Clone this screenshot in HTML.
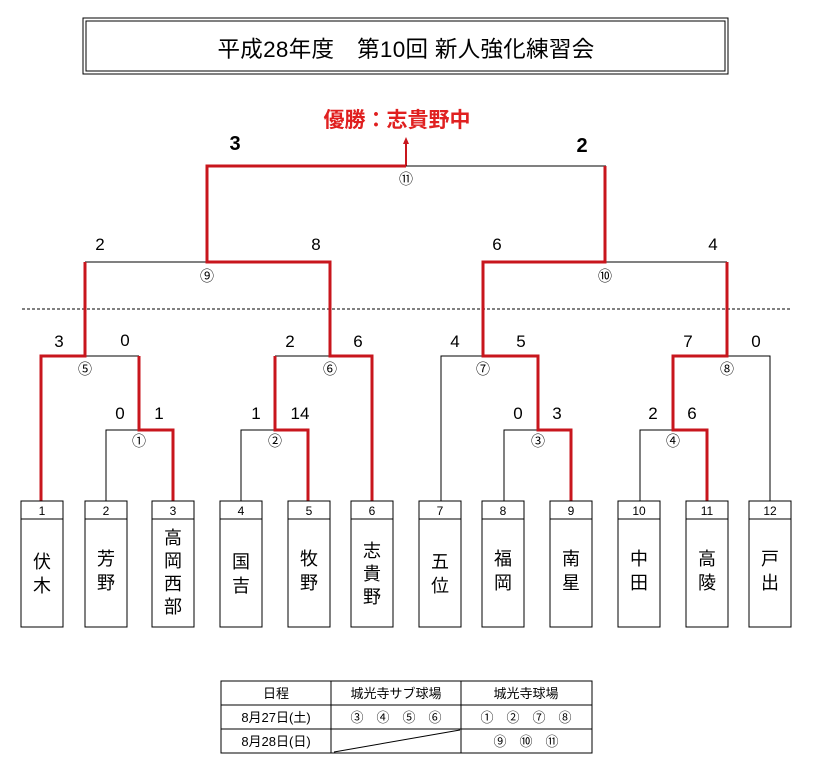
<!DOCTYPE html>
<html><head><meta charset="utf-8"><style>
html,body{margin:0;padding:0;background:#fff;}
svg{display:block;}
text{font-family:"Liberation Sans","Noto Sans CJK JP",sans-serif;}
</style></head><body>
<svg width="817" height="760" viewBox="0 0 817 760" xmlns="http://www.w3.org/2000/svg">
<!-- title -->
<rect x="83" y="18" width="645" height="56" fill="none" stroke="#000" stroke-width="1"/>
<rect x="86" y="21" width="639" height="50" fill="none" stroke="#000" stroke-width="1"/>
<text x="406" y="57" font-size="22.5" text-anchor="middle" letter-spacing="0.3">平成28年度　第10回 新人強化練習会</text>
<!-- winner -->
<text x="397" y="127" font-size="21" font-weight="bold" fill="#e02020" text-anchor="middle">優勝：志貴野中</text>
<line x1="406" y1="166" x2="406" y2="142" stroke="#c8161d" stroke-width="2"/>
<polygon points="403,144 409,144 406,137" fill="#c8161d"/>
<!-- dashed -->
<line x1="22" y1="309" x2="792" y2="309" stroke="#000" stroke-width="1" stroke-dasharray="3,2"/>
<g fill="none" stroke-linejoin="miter">
<g stroke="#000" stroke-width="1">
<line x1="406" y1="166" x2="606" y2="166"/>
<line x1="85" y1="262" x2="207" y2="262"/>
<line x1="605" y1="262" x2="727" y2="262"/>
<line x1="85" y1="356" x2="139" y2="356"/>
<line x1="275" y1="356" x2="330" y2="356"/>
<polyline points="441,501 441,356 483,356"/>
<polyline points="770,501 770,356 727,356"/>
<polyline points="106,501 106,430 139,430"/>
<polyline points="241,501 241,430 275,430"/>
<polyline points="504,501 504,430 538,430"/>
<polyline points="640,501 640,430 673,430"/>
</g>
<g stroke="#c8161d" stroke-width="3">
<polyline points="406,166 207,166 207,262 330,262 330,356 372,356 372,501"/>
<polyline points="605,166 605,262 483,262 483,356 538,356 538,430 571,430 571,501"/>
<polyline points="85,262 85,356 41,356 41,501"/>
<polyline points="139,356 139,430 173,430 173,501"/>
<polyline points="275,356 275,430 308,430 308,501"/>
<polyline points="727,262 727,356 673,356 673,430 707,430 707,501"/>
</g>
</g>
<!-- match numbers -->
<g font-size="14" text-anchor="middle">
<text x="406" y="184">⑪</text>
<text x="207" y="281">⑨</text>
<text x="605" y="281">⑩</text>
<text x="85" y="374">⑤</text>
<text x="330" y="374">⑥</text>
<text x="483" y="374">⑦</text>
<text x="727" y="374">⑧</text>
<text x="139" y="446">①</text>
<text x="275" y="446">②</text>
<text x="538" y="446">③</text>
<text x="673" y="446">④</text>
</g>
<!-- scores -->
<g font-size="17" text-anchor="middle">
<text x="235" y="150" font-weight="bold" font-size="20">3</text>
<text x="582" y="152" font-weight="bold" font-size="20">2</text>
<text x="100" y="250">2</text><text x="316" y="250">8</text>
<text x="497" y="250">6</text><text x="713" y="250">4</text>
<text x="59" y="347">3</text><text x="125" y="346">0</text>
<text x="290" y="347">2</text><text x="358" y="347">6</text>
<text x="455" y="347">4</text><text x="521" y="347">5</text>
<text x="688" y="347">7</text><text x="756" y="347">0</text>
<text x="120" y="419">0</text><text x="159" y="419">1</text>
<text x="256" y="419">1</text><text x="300" y="419">14</text>
<text x="518" y="419">0</text><text x="557" y="419">3</text>
<text x="653" y="419">2</text><text x="692" y="419">6</text>
</g>
<!-- team boxes -->
<g stroke="#000" stroke-width="1" fill="none">
<rect x="21" y="501" width="42" height="126"/><line x1="21" y1="519" x2="63" y2="519"/>
<rect x="85" y="501" width="42" height="126"/><line x1="85" y1="519" x2="127" y2="519"/>
<rect x="152" y="501" width="42" height="126"/><line x1="152" y1="519" x2="194" y2="519"/>
<rect x="220" y="501" width="42" height="126"/><line x1="220" y1="519" x2="262" y2="519"/>
<rect x="288" y="501" width="42" height="126"/><line x1="288" y1="519" x2="330" y2="519"/>
<rect x="351" y="501" width="42" height="126"/><line x1="351" y1="519" x2="393" y2="519"/>
<rect x="419" y="501" width="42" height="126"/><line x1="419" y1="519" x2="461" y2="519"/>
<rect x="482" y="501" width="42" height="126"/><line x1="482" y1="519" x2="524" y2="519"/>
<rect x="550" y="501" width="42" height="126"/><line x1="550" y1="519" x2="592" y2="519"/>
<rect x="618" y="501" width="42" height="126"/><line x1="618" y1="519" x2="660" y2="519"/>
<rect x="686" y="501" width="42" height="126"/><line x1="686" y1="519" x2="728" y2="519"/>
<rect x="749" y="501" width="42" height="126"/><line x1="749" y1="519" x2="791" y2="519"/>
</g>
<g font-size="12" text-anchor="middle">
<text x="42" y="515">1</text><text x="106" y="515">2</text><text x="173" y="515">3</text>
<text x="241" y="515">4</text><text x="309" y="515">5</text><text x="372" y="515">6</text>
<text x="440" y="515">7</text><text x="503" y="515">8</text><text x="571" y="515">9</text>
<text x="639" y="515">10</text><text x="707" y="515">11</text><text x="770" y="515">12</text>
</g>
<g font-size="18" text-anchor="middle">
<text x="42" y="568">伏</text><text x="42" y="592">木</text>
<text x="106" y="565">芳</text><text x="106" y="589">野</text>
<text x="173" y="544">高</text><text x="173" y="567">岡</text><text x="173" y="590">西</text><text x="173" y="613">部</text>
<text x="241" y="568">国</text><text x="241" y="592">吉</text>
<text x="309" y="565">牧</text><text x="309" y="589">野</text>
<text x="372" y="557">志</text><text x="372" y="580">貴</text><text x="372" y="603">野</text>
<text x="440" y="568">五</text><text x="440" y="592">位</text>
<text x="503" y="565">福</text><text x="503" y="589">岡</text>
<text x="571" y="565">南</text><text x="571" y="589">星</text>
<text x="639" y="565">中</text><text x="639" y="589">田</text>
<text x="707" y="565">高</text><text x="707" y="589">陵</text>
<text x="770" y="565">戸</text><text x="770" y="589">出</text>
</g>
<!-- schedule table -->
<g stroke="#000" stroke-width="1" fill="none">
<rect x="221" y="681" width="371" height="72"/>
<line x1="221" y1="705" x2="592" y2="705"/>
<line x1="221" y1="729" x2="592" y2="729"/>
<line x1="331" y1="681" x2="331" y2="753"/>
<line x1="461" y1="681" x2="461" y2="753"/>
<line x1="334" y1="752" x2="460" y2="730"/>
</g>
<g font-size="13" text-anchor="middle">
<text x="276" y="698">日程</text>
<text x="396" y="698">城光寺サブ球場</text>
<text x="526" y="698">城光寺球場</text>
<text x="276" y="722">8月27日(土)</text>
<text x="396" y="722">③　④　⑤　⑥</text>
<text x="526" y="722">①　②　⑦　⑧</text>
<text x="276" y="746">8月28日(日)</text>
<text x="526" y="746">⑨　⑩　⑪</text>
</g>
</svg>
</body></html>
